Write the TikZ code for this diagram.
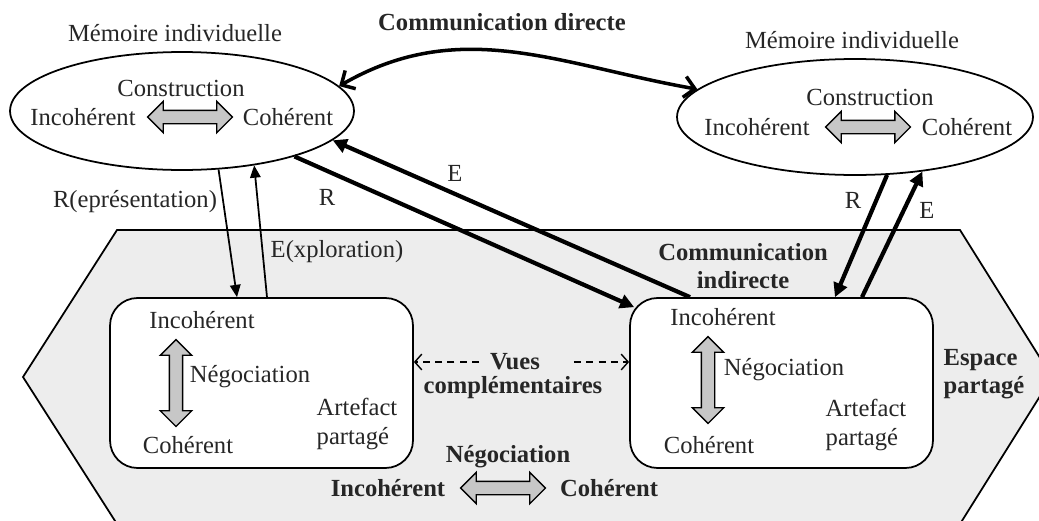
\documentclass[tikz,border=0pt]{standalone}
\usepackage{fontspec}
\setmainfont{Liberation Serif}
\usetikzlibrary{arrows.meta,shapes.geometric,shapes.arrows}

\tikzset{
  txt/.style={text=black!85, font=\fontsize{14}{16}\selectfont, inner sep=1pt},
  btxt/.style={txt, font=\fontsize{14}{16}\selectfont\bfseries},
  memoire/.style={ellipse, draw, line width=1pt, fill=white,
    minimum width=6.88cm, minimum height=2.36cm},
  artefact/.style={rectangle, rounded corners=0.55cm, draw, line width=1pt,
    fill=white, minimum width=6.06cm, minimum height=3.4cm},
  hfleche/.style={double arrow, draw, line width=0.8pt, fill=black!22,
    minimum height=1.7cm, minimum width=0.6cm, double arrow head extend=0.18cm,
    inner xsep=0pt, inner ysep=0.12cm},
  vfleche/.style={hfleche, rotate=90, minimum height=1.74cm},
  flux/.style={line width=1pt, -{Triangle[length=7pt,width=6pt]}},
  grosflux/.style={line width=2.4pt, -{Triangle[length=8pt,width=8pt]}},
  directe/.style={line width=2pt, {Straight Barb[length=6pt,width=12pt]}-{Straight Barb[length=6pt,width=12pt]}},
  pointille/.style={line width=0.8pt, dash pattern=on 4pt off 3pt,
    -{Straight Barb[length=4pt,width=9pt]}}
}

\begin{document}
\begin{tikzpicture}[x=0.02cm,y=-0.02cm]
  \useasboundingbox (0,0) rectangle (1039,521);
  % espace partage
  \begin{scope}
    \clip (0,0) rectangle (1039,521);
    \draw[line width=1pt, fill=black!7]
      (117,230) -- (960,230) -- (1052,377) -- (960,524) -- (117,524) -- (23,377) -- cycle;
  \end{scope}

  % memoires individuelles
  \node[memoire] (mg) at (182,111) {};
  \node[memoire, minimum width=7.12cm, minimum height=2.32cm] (md) at (855,117) {};
  \node[txt] (mgtitre) at (175,33) {Mémoire individuelle};
  \node[txt] (mgcons) at (181,88) {Construction};
  \node[txt] (mginc) at (83,117) {Incohérent};
  \node[hfleche] (mgfl) at (190,117) {};
  \node[txt] (mgcoh) at (288,117) {Cohérent};
  \node[txt] (mdtitre) at (852,40) {Mémoire individuelle};
  \node[txt] (mdcons) at (870,97) {Construction};
  \node[txt] (mdinc) at (757,127) {Incohérent};
  \node[hfleche] (mdfl) at (868,127) {};
  \node[txt] (mdcoh) at (967,127) {Cohérent};
  \node[btxt] (cdir) at (502,22) {Communication directe};

  % artefacts partages
  \node[artefact] (ag) at (261.5,383) {};
  \node[txt] (aginc) at (202,320) {Incohérent};
  \node[vfleche] (agfl) at (176,383) {};
  \node[txt] (agneg) at (250,377) {Négociation};
  \node[txt, align=left] (agart) at (357,424) {Artefact\\partagé};
  \node[txt] (agcoh) at (188,445) {Cohérent};
  \node[artefact] (ad) at (781.5,383) {};
  \node[txt] (adinc) at (723,317) {Incohérent};
  \node[vfleche] (adfl) at (708,380) {};
  \node[txt] (adneg) at (784,370) {Négociation};
  \node[txt, align=left] (adart) at (866,425) {Artefact\\partagé};
  \node[txt] (adcoh) at (709,445) {Cohérent};

  \node[btxt, align=center] (cind) at (743,266) {Communication\\indirecte};
  \node[btxt, align=left] (esp) at (984,374) {Espace\\partagé};
  \node[btxt] (vues) at (515,362) {Vues};
  \node[btxt] (compl) at (513,388) {complémentaires};
  \node[btxt] (bneg) at (508,457) {Négociation};
  \node[btxt] (binc) at (388,488) {Incohérent};
  \node[hfleche] (bfl) at (503,488) {};
  \node[btxt] (bcoh) at (609,488) {Cohérent};

  \node[txt] (lrg) at (135,202) {R(eprésentation)};
  \node[txt] (leg) at (337,252) {E(xploration)};
  \node[txt] (lrm) at (327,197) {R};
  \node[txt] (lem) at (455,173) {E};
  \node[txt] (lrd) at (853,200) {R};
  \node[txt] (led) at (927,210) {E};

  % fleches
  \draw[directe] (mg.9) to[out=30,in=170] (md.170);
  \draw[flux] (mg.-58) -- ([xshift=-0.49cm]ag.north);
  \draw[flux] ([xshift=0.11cm]ag.north) -- (mg.-37);
  \draw[grosflux] (mg.-22) -- ([shift={(0.1cm,-0.2cm)}]ad.north west);
  \draw[grosflux] ([xshift=-1.83cm]ad.north) -- (mg.-11);
  \draw[grosflux] (md.-61) -- ([xshift=1.07cm]ad.north);
  \draw[grosflux] ([xshift=1.61cm]ad.north) -- (md.-39);
  \draw[pointille] ([xshift=-0.18cm]vues.west) -- (ag.east |- vues);
  \draw[pointille] ([xshift=0.64cm]vues.east) -- (ad.west |- vues);
\end{tikzpicture}
\end{document}
